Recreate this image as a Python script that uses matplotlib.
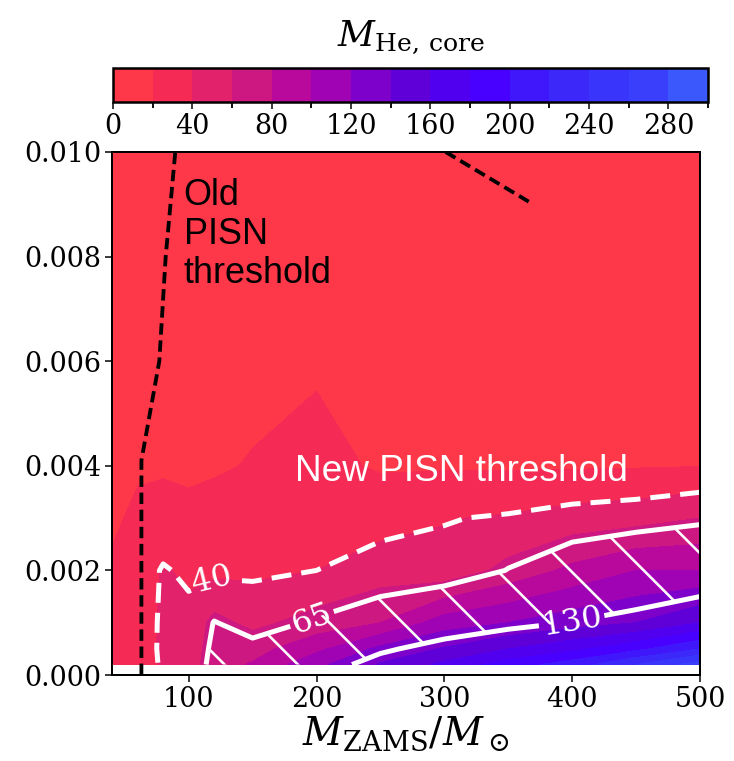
import numpy as np
import matplotlib
matplotlib.use("Agg")
import matplotlib.pyplot as plt
from matplotlib.colors import ListedColormap, BoundaryNorm

# --- data ---
m_zams = [40, 60, 80, 100, 120, 150, 200, 250, 300, 350, 400, 450, 500]
metallicity = [0.0002, 0.0005, 0.001, 0.002, 0.003, 0.004, 0.006, 0.008, 0.010]

# He core mass, one list per M_ZAMS column, values from low Z to high Z
he_m40 = [28, 27, 26, 22, 17.5, 15, 12, 10, 9]
he_m60 = [32, 31, 30, 28, 23, 18, 14, 12, 10]
he_m80 = [42, 43, 43, 42, 26, 18, 14, 12, 10]
he_m100 = [50, 48, 46, 36, 24, 17, 13, 11, 10]
he_m120 = [72, 70, 66, 35, 25, 18.5, 14, 12, 10]
he_m150 = [82, 72, 55, 36, 28, 20.8, 16, 13, 11]
he_m200 = [115, 95, 68, 40, 31, 25, 18, 14, 12]
he_m250 = [142, 125, 80, 50, 32, 18, 15, 13, 11]
he_m300 = [165, 142, 110, 46, 39, 18, 15, 13, 11]
he_m350 = [190, 160, 120, 66, 42, 18, 15, 13, 11]
he_m400 = [210, 175, 131, 85, 48, 18, 15, 13, 11]
he_m450 = [240, 195, 140, 100, 52, 18.5, 15, 13, 11]
he_m500 = [270, 220, 160, 100, 60, 19.5, 15, 13, 11]

old_pisn_m = [63, 63, 77, 82, 89.5]
old_pisn_z = [0.0, 0.0041, 0.006, 0.008, 0.010]
old_pisn2_m = [301, 366]
old_pisn2_z = [0.010, 0.00905]

levels = np.arange(0, 301, 20)
cbar_ticks = np.arange(0, 281, 40)
colors = ["#fe3848", "#f52b56", "#e2226a", "#cd1881", "#b8099c",
          "#9f03b3", "#7d00cb", "#6000d8", "#5000ee", "#4800ff",
          "#4017fb", "#3c28f8", "#3a35fa", "#3a3ffb", "#3b58fc"]

DPI = 220
PX = 72 / DPI  # points per output pixel

plt.rcParams["font.family"] = "DejaVu Serif"
plt.rcParams["mathtext.fontset"] = "dejavuserif"
plt.rcParams["hatch.color"] = "white"
plt.rcParams["hatch.linewidth"] = 2.6 * PX

columns = [he_m40, he_m60, he_m80, he_m100, he_m120, he_m150, he_m200,
           he_m250, he_m300, he_m350, he_m400, he_m450, he_m500]
he_core = np.array(columns).T
mm, zz = np.meshgrid(m_zams, metallicity)

cmap = ListedColormap(colors)
norm = BoundaryNorm(levels, cmap.N)

fig = plt.figure(figsize=(734 / DPI, 761 / DPI), dpi=DPI)
ax = fig.add_axes([0.1526, 0.1130, 0.8011, 0.6873])
cax = fig.add_axes([0.1540, 0.8660, 0.8106, 0.0447])

cf = ax.contourf(mm, zz, he_core, levels=levels, cmap=cmap, norm=norm)
ax.contourf(mm, zz, he_core, levels=[65, 130], colors="none", hatches=["\\"])

cs40 = ax.contour(mm, zz, he_core, levels=[40], colors="white",
                  linewidths=5 * PX, linestyles=[(0, (4.0, 2.0))])
cs65 = ax.contour(mm, zz, he_core, levels=[65, 130], colors="white",
                  linewidths=5 * PX)
ax.clabel(cs40, fmt="%d", fontsize=32 * PX, manual=[(118, 0.0018)],
          inline_spacing=8 * PX)
ax.clabel(cs65, fmt="%d", fontsize=32 * PX,
          manual=[(196, 0.0011), (400, 0.00098)], inline_spacing=8 * PX)

ax.plot(old_pisn_m, old_pisn_z, "k--", lw=3.8 * PX, dashes=(3.0, 1.5))
ax.plot(old_pisn2_m, old_pisn2_z, "k--", lw=3.8 * PX, dashes=(3.0, 1.5))

ax.text(96, 0.0095, "Old\nPISN\nthreshold", ha="left", va="top",
        fontsize=36 * PX, family="Liberation Sans", color="black",
        linespacing=1.15)
ax.text(183, 0.0037, "New PISN threshold", ha="left", va="baseline",
        fontsize=37 * PX, family="Liberation Sans", color="white")

ax.set_xlim(40, 500)
ax.set_ylim(0, 0.010)
ax.set_xticks([100, 200, 300, 400, 500])
ax.set_yticks([0.0, 0.002, 0.004, 0.006, 0.008, 0.010])
ax.set_yticklabels(["%.3f" % v for v in ax.get_yticks()])
ax.tick_params(labelsize=27 * PX, length=7 * PX, width=1.5 * PX, pad=4 * PX)
for s in ax.spines.values():
    s.set_linewidth(2 * PX)
ax.set_xlabel(r"$M_{\rm ZAMS}/M_\odot$", fontsize=39 * PX, labelpad=2 * PX)
ax.set_ylabel(r"$Z$", fontsize=38 * PX)
ax.yaxis.set_label_coords(-0.176, 0.5)

cbar = fig.colorbar(cf, cax=cax, orientation="horizontal", ticks=cbar_ticks)
cbar.outline.set_linewidth(2.5 * PX)
cbar.ax.tick_params(labelsize=27 * PX, length=7 * PX, width=1.5 * PX,
                    pad=4 * PX)
cbar.ax.xaxis.set_label_position("top")
cbar.set_label(r"$M_{\rm He,\,core}$", fontsize=36 * PX, labelpad=22 * PX)

fig.savefig("out.png", dpi=DPI)
